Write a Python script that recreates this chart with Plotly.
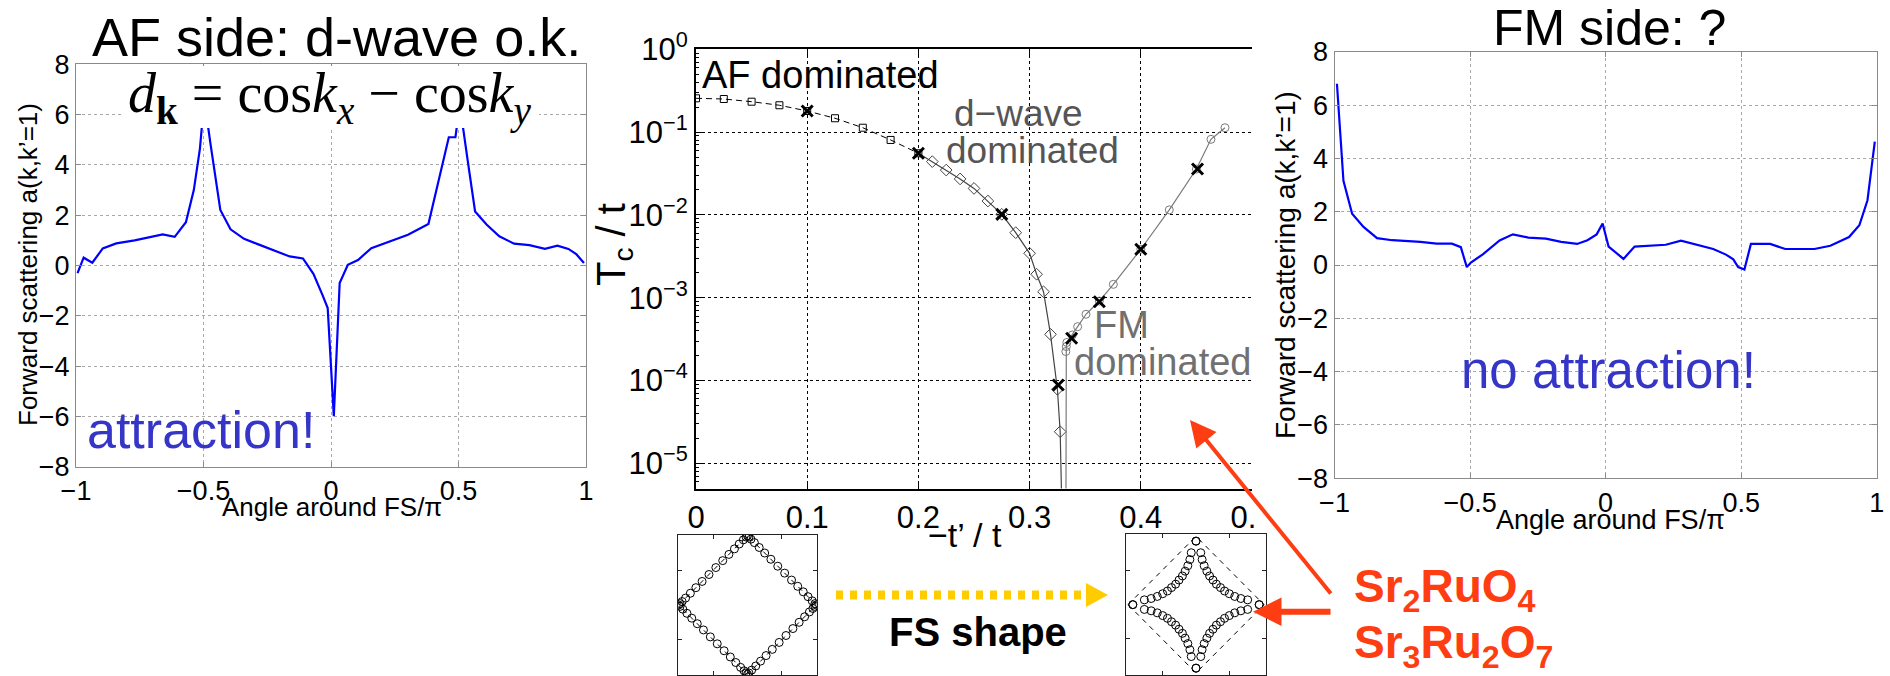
import plotly.graph_objects as go

W, H = 1890, 676
SANS = "Liberation Sans, Arial, Helvetica, sans-serif"
SERIF = "Liberation Serif, Times New Roman, serif"
BLUE_TXT = "#3535C8"
RED = "#FF3D12"
YELLOW = "#FFCC00"


def PX(x):
    return x / W


def PY(y):
    return 1 - y / H


# ---------------- data ----------------
# forward scattering a(k, k'=1) around the Fermi surface, AF side
af_angle = [-0.994, -0.970, -0.936, -0.895, -0.842, -0.770, -0.660, -0.613, -0.569, -0.538,
            -0.514, -0.497, -0.472, -0.434, -0.394, -0.341, -0.290, -0.210, -0.162, -0.110,
            -0.069, -0.034, -0.013, 0.011, 0.034, 0.066, 0.106, 0.158, 0.238, 0.302,
            0.382, 0.414, 0.434, 0.462, 0.488, 0.505, 0.534, 0.565, 0.610, 0.660,
            0.718, 0.778, 0.839, 0.888, 0.931, 0.963, 0.992]
af_scatt = [-0.30, 0.31, 0.11, 0.68, 0.88, 1.00, 1.24, 1.14, 1.72, 3.00,
            4.65, 6.6, 4.80, 2.21, 1.44, 1.06, 0.86, 0.53, 0.36, 0.28,
            -0.33, -1.16, -1.69, -5.99, -0.70, 0.03, 0.22, 0.69, 0.99, 1.22,
            1.65, 3.00, 3.96, 5.10, 5.10, 6.4, 4.32, 2.15, 1.63, 1.16,
            0.87, 0.81, 0.66, 0.79, 0.66, 0.44, 0.10]

# forward scattering, FM side
fm_angle = [-0.991, -0.967, -0.935, -0.893, -0.843, -0.787, -0.683, -0.623, -0.567, -0.534,
            -0.512, -0.497, -0.453, -0.391, -0.342, -0.285, -0.220, -0.164, -0.105, -0.067,
            -0.033, -0.011, 0.011, 0.066, 0.107, 0.170, 0.222, 0.278, 0.340, 0.397,
            0.444, 0.471, 0.489, 0.512, 0.536, 0.573, 0.607, 0.663, 0.770, 0.829,
            0.898, 0.936, 0.966, 0.993]
fm_scatt = [6.80, 3.16, 1.92, 1.43, 1.01, 0.93, 0.87, 0.80, 0.80, 0.67,
            -0.08, 0.09, 0.40, 0.92, 1.15, 1.03, 0.99, 0.87, 0.79, 0.93,
            1.15, 1.56, 0.69, 0.23, 0.69, 0.73, 0.76, 0.91, 0.76, 0.60,
            0.39, 0.21, -0.08, -0.17, 0.79, 0.80, 0.79, 0.60, 0.60, 0.72,
            1.05, 1.49, 2.43, 4.63]

# Tc/t versus -t'/t
tp_af = [0.0, 0.025, 0.05, 0.075, 0.1, 0.125, 0.15, 0.175, 0.2]
tc_af = [0.256, 0.251, 0.233, 0.211, 0.180, 0.147, 0.113, 0.0804, 0.0555]

tp_d = [0.2, 0.2125, 0.225, 0.2375, 0.25, 0.2625, 0.275, 0.2875, 0.3, 0.3063,
        0.3125, 0.3188, 0.325, 0.3275, 0.3297]
tc_d = [0.0555, 0.0440, 0.0348, 0.0272, 0.0209, 0.0147, 0.01016, 0.00610, 0.00344, 0.00192,
        0.00118, 3.61e-4, 7.83e-5, 2.41e-5, 1e-6]

tp_fm = [0.3326, 0.3326, 0.3330, 0.3335, 0.3384, 0.3432, 0.3507, 0.3627, 0.3753, 0.4,
         0.4256, 0.45, 0.4631, 0.4757]
tc_fm = [1e-6, 2.24e-4, 2.57e-4, 2.88e-4, 3.55e-4, 4.47e-4, 6.31e-4, 9.12e-4, 1.45e-3, 3.85e-3,
         1.15e-2, 3.58e-2, 8.18e-2, 0.113]

tp_cross = [0.1, 0.2, 0.275, 0.3258, 0.3378, 0.3627, 0.4, 0.451]
tc_cross = [0.180, 0.0555, 0.01016, 8.83e-5, 3.24e-4, 8.95e-4, 3.85e-3, 0.0358]

tc_ticks = [1e-5, 1e-4, 1e-3, 1e-2, 1e-1, 1]
tc_ticktext = ["10<sup>\u22125</sup>", "10<sup>\u22124</sup>", "10<sup>\u22123</sup>",
               "10<sup>\u22122</sup>", "10<sup>\u22121</sup>", "10<sup>0</sup>"]
tp_ticks = [0, 0.1, 0.2, 0.3, 0.4, 0.5]

# Fermi-surface patches (units of pi): position along each edge of the square FS
fs_square_frac = [0.0, 0.02, 0.05, 0.10, 0.17, 0.25, 0.34, 0.44, 0.54, 0.64, 0.73, 0.81, 0.88, 0.94, 0.98]
# concave FS, one quadrant (kx<0, ky>0)
fs_star_kx = [0.0, -0.07, -0.09, -0.12, -0.16, -0.20, -0.25, -0.30, -0.36, -0.42, -0.49, -0.57, -0.66, -0.76, -0.93]
fs_star_ky = [0.93, 0.76, 0.66, 0.57, 0.49, 0.42, 0.36, 0.30, 0.25, 0.20, 0.16, 0.12, 0.09, 0.07, 0.0]

# ---------------- figure ----------------
fig = go.Figure()

# left and right panels
fig.add_trace(go.Scatter(x=af_angle, y=af_scatt, mode="lines", line=dict(color="#0000FF", width=2.2),
                         xaxis="x", yaxis="y", showlegend=False))
fig.add_trace(go.Scatter(x=fm_angle, y=fm_scatt, mode="lines", line=dict(color="#0000FF", width=2.2),
                         xaxis="x3", yaxis="y3", showlegend=False))

# middle panel
fig.add_trace(go.Scatter(x=tp_af, y=tc_af, mode="lines+markers",
                         line=dict(color="black", width=1, dash="6px,4px"),
                         marker=dict(symbol="square-open", size=7, color="black", line=dict(width=1)),
                         xaxis="x2", yaxis="y2", showlegend=False))
fig.add_trace(go.Scatter(x=tp_d, y=tc_d, mode="lines", line=dict(color="#444444", width=1.2),
                         xaxis="x2", yaxis="y2", showlegend=False))
fig.add_trace(go.Scatter(x=tp_d[1:-1], y=tc_d[1:-1], mode="markers",
                         marker=dict(symbol="diamond-open", size=9, color="#444444", line=dict(width=1)),
                         xaxis="x2", yaxis="y2", showlegend=False))
fig.add_trace(go.Scatter(x=tp_fm, y=tc_fm, mode="lines", line=dict(color="#7a7a7a", width=1.2),
                         xaxis="x2", yaxis="y2", showlegend=False))
fig.add_trace(go.Scatter(x=tp_fm[1:], y=tc_fm[1:], mode="markers",
                         marker=dict(symbol="circle-open", size=8, color="#7a7a7a", line=dict(width=1)),
                         xaxis="x2", yaxis="y2", showlegend=False))
fig.add_trace(go.Scatter(x=tp_cross, y=tc_cross, mode="markers",
                         marker=dict(symbol="x-thin", size=11, color="black", line=dict(width=3, color="black")),
                         xaxis="x2", yaxis="y2", showlegend=False))

# FS insets
square_vertices = [(-1, 0), (0, 1), (1, 0), (0, -1), (-1, 0)]
sq_x, sq_y = [], []
for i in range(4):
    (ax0, ay0), (ax1, ay1) = square_vertices[i], square_vertices[i + 1]
    for f in fs_square_frac:
        sq_x.append(ax0 + f * (ax1 - ax0))
        sq_y.append(ay0 + f * (ay1 - ay0))
diam_x = [v[0] for v in square_vertices]
diam_y = [v[1] for v in square_vertices]

star_x, star_y = [], []
for sx, sy in [(1, 1), (-1, 1), (-1, -1), (1, -1)]:
    star_x += [sx * v for v in fs_star_kx]
    star_y += [sy * v for v in fs_star_ky]

for xa, ya in [("x4", "y4"), ("x5", "y5")]:
    fig.add_trace(go.Scatter(x=diam_x, y=diam_y, mode="lines", line=dict(color="black", width=1, dash="5px,5px"),
                             xaxis=xa, yaxis=ya, showlegend=False))
fig.add_trace(go.Scatter(x=sq_x, y=sq_y, mode="markers",
                         marker=dict(symbol="circle-open", size=8, color="black", line=dict(width=1)),
                         xaxis="x4", yaxis="y4", showlegend=False))
fig.add_trace(go.Scatter(x=star_x, y=star_y, mode="markers",
                         marker=dict(symbol="circle-open", size=8, color="black", line=dict(width=1)),
                         xaxis="x5", yaxis="y5", showlegend=False))

# ---------------- axes ----------------
GRAY_FRAME = "#8a8a8a"
side_x = dict(range=[-1, 1], tickvals=[-1, -0.5, 0, 0.5, 1], showgrid=True, gridcolor="#a8a8a8",
              griddash="dot", gridwidth=1, showline=True, linecolor=GRAY_FRAME, linewidth=1,
              mirror="ticks", ticks="inside", ticklen=5, tickcolor=GRAY_FRAME, zeroline=False,
              automargin=False, tickfont=dict(size=27, color="black", family=SANS))
side_y = dict(range=[-8, 8], tickvals=list(range(-8, 9, 2)), showgrid=True, gridcolor="#a8a8a8",
              griddash="dot", gridwidth=1, showline=True, linecolor=GRAY_FRAME, linewidth=1,
              mirror="ticks", ticks="inside", ticklen=5, tickcolor=GRAY_FRAME, zeroline=False,
              automargin=False, tickfont=dict(size=27, color="black", family=SANS))

minor_logs = [k * 10.0 ** e for e in range(-6, 0) for k in range(2, 10)]

inset_axis = dict(showgrid=False, zeroline=False, showline=True, linecolor="#222222", linewidth=1.3,
                  mirror="ticks", ticks="inside", ticklen=4, tickcolor="#222222", automargin=False,
                  tickvals=[-0.5, 0.5], showticklabels=False)

fig.update_layout(
    width=W, height=H, margin=dict(l=0, r=0, t=0, b=0, pad=0, autoexpand=False),
    paper_bgcolor="white", plot_bgcolor="white",
    font=dict(family=SANS, color="black"),
    xaxis=dict(side_x, domain=[PX(76), PX(586)], anchor="y"),
    yaxis=dict(side_y, domain=[PY(466.7), PY(64.3)], anchor="x"),
    xaxis3=dict(side_x, domain=[PX(1334.5), PX(1876.7)], anchor="y3"),
    yaxis3=dict(side_y, domain=[PY(478.2), PY(51.8)], anchor="x3"),
    xaxis2=dict(domain=[PX(696), PX(1252)], anchor="y2", range=[0, 0.5], tickvals=tp_ticks,
                ticktext=["0", "0.1", "0.2", "0.3", "0.4", "0.5"],
                showgrid=True, gridcolor="black", griddash="dot", gridwidth=1.4,
                showline=True, linecolor="black", linewidth=2, mirror="ticks",
                ticks="inside", ticklen=6, tickcolor="black", zeroline=False, automargin=False,
                tickfont=dict(size=31, color="black", family=SANS)),
    yaxis2=dict(domain=[PY(488.5), PY(49.3)], anchor="x2", type="log", range=[-5.304, 0],
                tickvals=tc_ticks, ticktext=tc_ticktext,
                showgrid=True, gridcolor="black", griddash="dot", gridwidth=1.4,
                showline=True, linecolor="black", linewidth=2, mirror=False,
                ticks="inside", ticklen=6, tickcolor="black", zeroline=False, automargin=False,
                minor=dict(tickmode="array", tickvals=minor_logs, ticks="inside", ticklen=3,
                           tickcolor="black", showgrid=False),
                tickfont=dict(size=31, color="black", family=SANS)),
    yaxis6=dict(overlaying="y2", side="right", anchor="x2", type="log", range=[-5.304, 0],
                tickvals=tc_ticks, showticklabels=False, showgrid=False, showline=False,
                ticks="inside", ticklen=6, tickcolor="black", zeroline=False, automargin=False,
                minor=dict(tickmode="array", tickvals=minor_logs, ticks="inside", ticklen=3,
                           tickcolor="black", showgrid=False)),
    xaxis4=dict(inset_axis, domain=[PX(678), PX(817)], anchor="y4", range=[-1.01, 1.01]),
    yaxis4=dict(inset_axis, domain=[PY(675), PY(535)], anchor="x4", range=[-1.01, 1.01]),
    xaxis5=dict(inset_axis, domain=[PX(1126), PX(1266)], anchor="y5", range=[-1.03, 1.03]),
    yaxis5=dict(inset_axis, domain=[PY(675), PY(534.3)], anchor="x5", range=[-1.03, 1.03]),
)

# ---------------- shapes ----------------
shapes = [
    # white box behind the d-wave form factor
    dict(type="rect", xref="paper", yref="paper", x0=PX(122), x1=PX(539), y0=PY(128), y1=PY(66),
         fillcolor="white", line=dict(width=0), layer="above"),
    # right panel sheet overlapping the last tick label of the middle panel
    dict(type="rect", xref="paper", yref="paper", x0=PX(1255), x1=PX(1296), y0=PY(528), y1=PY(490),
         fillcolor="white", line=dict(width=0), layer="above"),
    # yellow dotted arrow
    dict(type="line", xref="paper", yref="paper", x0=PX(836), x1=PX(1087), y0=PY(595), y1=PY(595),
         line=dict(color=YELLOW, width=9, dash="7px,7px"), layer="above"),
    dict(type="path", xref="paper", yref="paper",
         path=f"M{PX(1086)},{PY(583)} L{PX(1108)},{PY(595)} L{PX(1086)},{PY(607)} Z",
         fillcolor=YELLOW, line=dict(width=0), layer="above"),
]
fig.update_layout(shapes=shapes)

# ---------------- text ----------------
def text(s, x, y, size, color="black", family=SANS, xanchor="center", yanchor="middle", **kw):
    return dict(text=s, x=PX(x), y=PY(y), xref="paper", yref="paper", showarrow=False,
                xanchor=xanchor, yanchor=yanchor, font=dict(size=size, color=color, family=family), **kw)


annotations = [
    text("AF side: d-wave o.k.", 336, 37, 54),
    text("FM side: ?", 1609, 28, 50),
    text("<i>d</i><sub><b>k</b></sub> = cos<i>k</i><sub><i>x</i></sub> \u2212 cos<i>k</i><sub><i>y</i></sub>",
         329, 98, 56, family=SERIF),
    text("Forward scattering a(k,k\u2019=1)", 28, 265, 26, textangle=-90),
    text("Forward scattering a(k,k\u2019=1)", 1285, 265, 28, textangle=-90),
    text("Angle around FS/\u03c0", 332, 507, 26),
    text("Angle around FS/\u03c0", 1610, 520, 27),
    text("attraction!", 201, 430, 52, color=BLUE_TXT),
    text("no attraction!", 1608, 370, 51, color=BLUE_TXT),
    text("T<sub>c</sub> / t", 614, 245, 40, textangle=-90),
    text("\u2212t\u2019 / t", 965, 535, 34),
    text("AF dominated", 700, 75, 38, xanchor="left"),
    text("d\u2212wave", 1018, 113, 37, color="#555555"),
    text("dominated", 1032, 150, 37, color="#555555"),
    text("FM", 1121, 325, 38, color="#707070"),
    text("dominated", 1162, 362, 38, color="#707070"),
    text("<b>FS shape</b>", 978, 632, 40),
    text("<b>Sr<sub>2</sub>RuO<sub>4</sub></b>", 1352, 589, 46, color=RED, xanchor="left"),
    text("<b>Sr<sub>3</sub>Ru<sub>2</sub>O<sub>7</sub></b>", 1352, 645, 46, color=RED, xanchor="left"),
    # red arrows
    dict(text="", x=PX(1190), y=PY(420), xref="paper", yref="paper", showarrow=True,
         ax=142, ay=175, arrowcolor=RED, arrowwidth=4, arrowhead=2, arrowsize=1.3, standoff=0),
    dict(text="", x=PX(1253), y=PY(611.7), xref="paper", yref="paper", showarrow=True,
         ax=79, ay=0, arrowcolor=RED, arrowwidth=6, arrowhead=2, arrowsize=0.95, standoff=0),
]
fig.update_layout(annotations=annotations)

fig.write_html("out.html")
